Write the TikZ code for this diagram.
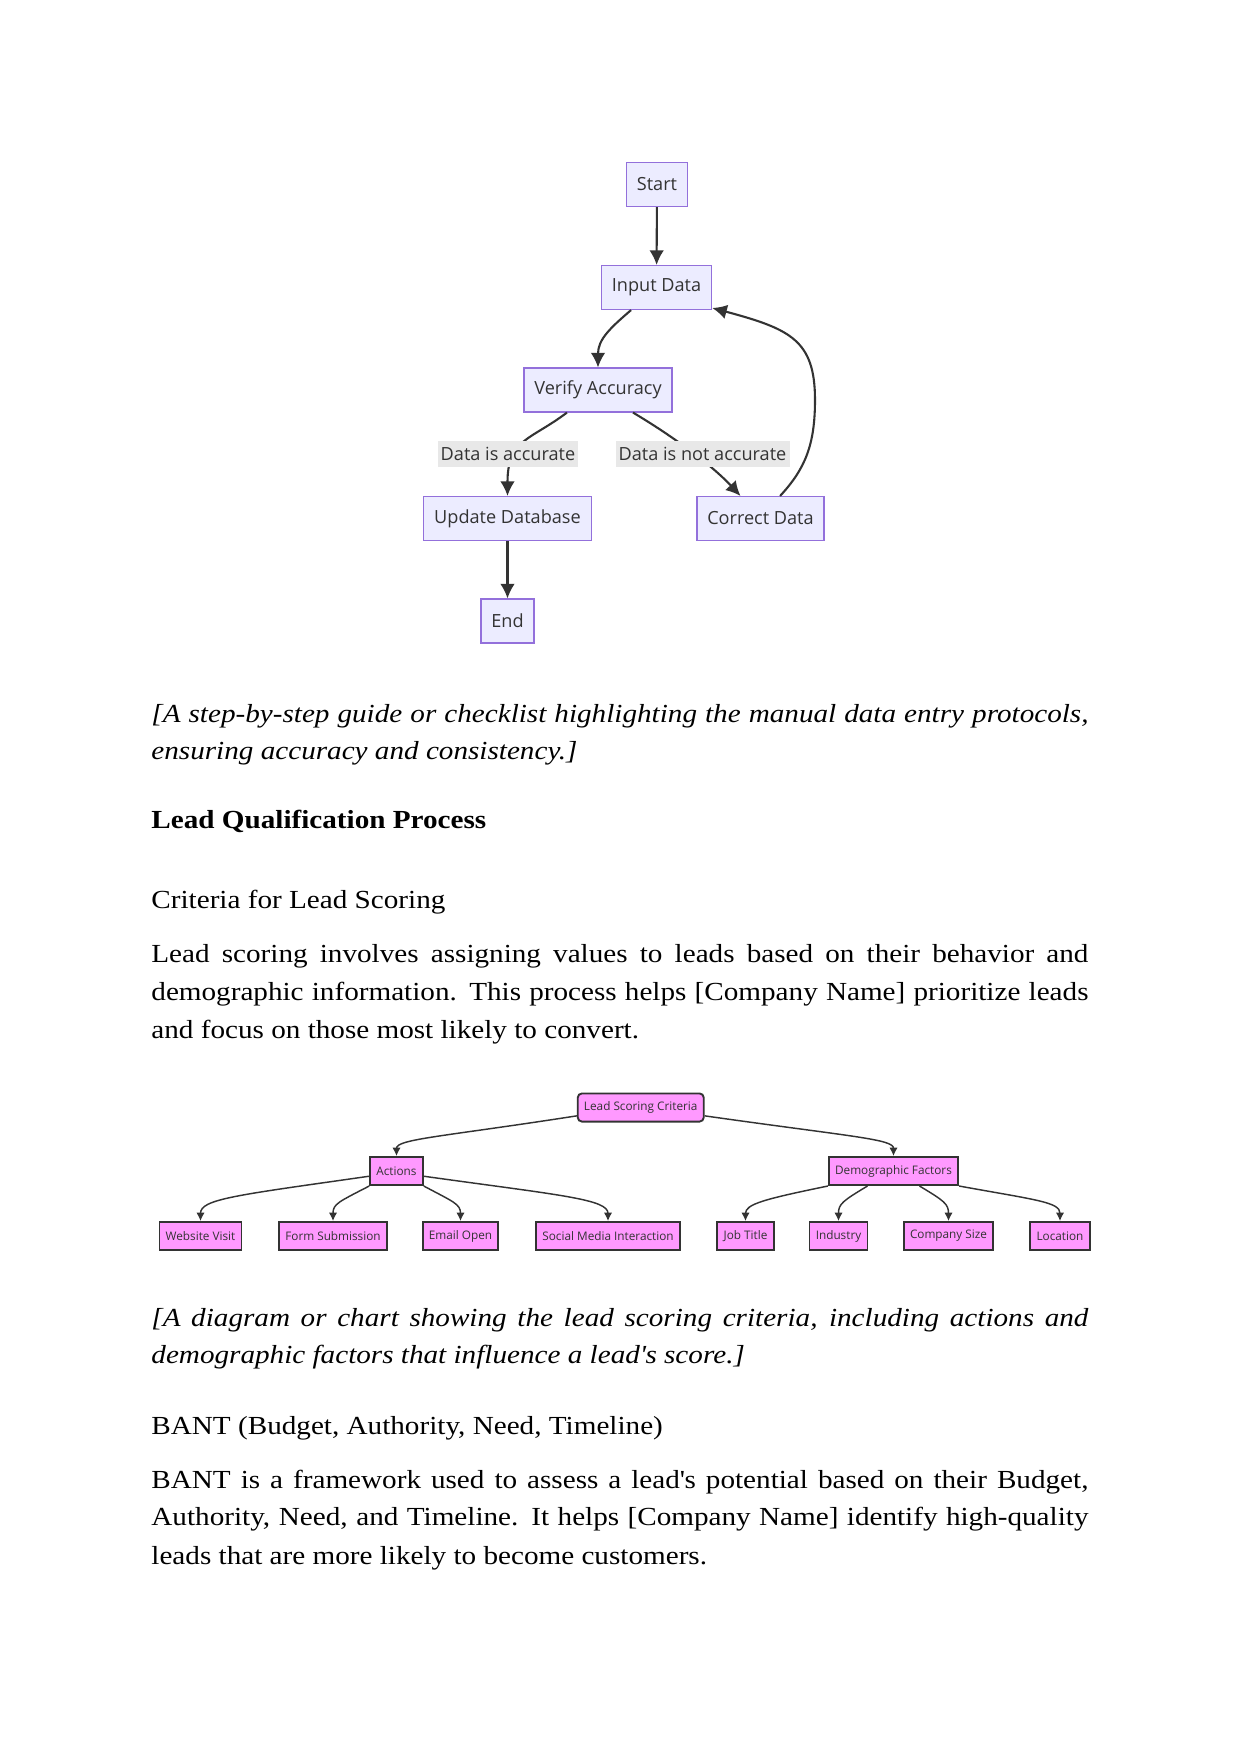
\documentclass[tikz,border=0pt]{standalone}
\usepackage{fontspec}
\setmainfont{Liberation Serif}[FakeStretch=1.12]
\newfontfamily\chartfont{Open Sans}
\usetikzlibrary{arrows.meta}

\definecolor{flowfill}{HTML}{ECECFF}
\definecolor{flowline}{HTML}{9370DB}
\definecolor{inkgray}{HTML}{333333}
\definecolor{labelgray}{HTML}{E8E8E8}
\definecolor{scorepink}{HTML}{FF99FF}

\newcommand{\justline}[1]{\makebox[449.8pt][s]{#1}}

\tikzset{
  flowbox/.style={draw=flowline, fill=flowfill, line width=0.65pt, text=inkgray,
    font=\chartfont\fontsize{8.7}{10}\selectfont, minimum height=21pt, inner xsep=5pt},
  flowlabel/.style={fill=labelgray, text=inkgray, font=\chartfont\fontsize{8.7}{10}\selectfont,
    minimum height=12.5pt, inner xsep=1.5pt, inner ysep=0pt},
  flowedge/.style={draw=inkgray, line width=1pt, ->, >={Latex[length=7pt,width=7pt]}},
  scorebox/.style={draw=inkgray, fill=scorepink, line width=0.9pt, text=inkgray,
    font=\chartfont\fontsize{5.65}{6.5}\selectfont, minimum height=13.5pt, inner xsep=3pt},
  scoreedge/.style={draw=inkgray, line width=0.7pt, ->, >={Latex[length=4pt,width=4pt]}},
  bodytext/.style={anchor=base west, inner sep=0pt, font=\fontsize{12.5}{18}\selectfont},
}

\begin{document}
\begin{tikzpicture}[x=0.48pt, y=-0.48pt]
            \fill[white] (0,0) rectangle (1242,1755) ;

            % data entry flow
            \node[flowbox] (start) at (657,184.5) {Start} ;
            \node[flowbox] (inp) at (656.5,287.5) {Input Data} ;
            \node[flowbox] (ver) at (598,390) {Verify Accuracy} ;
            \node[flowbox] (upd) at (507.5,518.5) {Update Database} ;
            \node[flowbox] (cor) at (760.5,518.5) {Correct Data} ;
            \node[flowbox] (fin) at (507.5,621) {End} ;
            \coordinate (bend) at (815,400) ;
            \draw[flowedge] (start) -- (inp) ;
            \draw[flowedge] ([xshift=-12.2pt]inp.south) .. controls +(-21,18) and +(0,-28) .. (ver.north) ;
            \draw[flowedge] ([xshift=-14.9pt]ver.south) .. controls +(-37,28) and +(0,-57) .. (upd.north) ;
            \draw[flowedge] ([xshift=16.8pt]ver.south) .. controls +(47,28) and +(-25,-27) .. ([xshift=-9.6pt]cor.north) ;
            \draw[flowedge] ([xshift=9.4pt]cor.north) .. controls +(25,-27) and +(0,45) .. (bend) .. controls +(0,-60) and +(78,21) .. ([yshift=1pt]inp.south east) ;
            \draw[flowedge] (upd) -- (fin) ;
            \node[flowlabel] (yes) at (508,454) {Data is accurate} ;
            \node[flowlabel] (no) at (702.5,454) {Data is not accurate} ;

            \node[bodytext, font=\fontsize{12.5}{18}\selectfont\itshape] (capa) at (151,722) {\justline{[A step-by-step guide or checklist highlighting the manual data entry protocols,}} ;
            \node[bodytext, font=\fontsize{12.5}{18}\selectfont\itshape] (capb) at (151,759) {ensuring accuracy and consistency.]} ;
            \node[bodytext, font=\fontsize{12.5}{18}\selectfont\bfseries] (head) at (151,828) {Lead Qualification Process} ;
            \node[bodytext] (crit) at (151,908) {Criteria for Lead Scoring} ;
            \node[bodytext] (para) at (151,962) {\justline{Lead scoring involves assigning values to leads based on their behavior and}} ;
            \node[bodytext] (parb) at (151,1000) {\justline{demographic information. This process helps [Company Name] prioritize leads}} ;
            \node[bodytext] (parc) at (151,1038) {and focus on those most likely to convert.} ;

            % scoring tree
            \node[scorebox, rounded corners=2pt] (lsc) at (640.75,1107.5) {Lead Scoring Criteria} ;
            \node[scorebox] (act) at (396.5,1171) {Actions} ;
            \node[scorebox] (dem) at (893.5,1171) {Demographic Factors} ;
            \node[scorebox] (web) at (200.5,1236) {Website Visit} ;
            \node[scorebox] (form) at (333,1236) {Form Submission} ;
            \node[scorebox] (mail) at (460.5,1236) {Email Open} ;
            \node[scorebox] (soc) at (608,1236) {Social Media Interaction} ;
            \node[scorebox] (job) at (745.5,1236) {Job Title} ;
            \node[scorebox] (ind) at (838.5,1236) {Industry} ;
            \node[scorebox] (size) at (948.5,1236) {Company Size} ;
            \node[scorebox] (loc) at (1060,1236) {Location} ;
            \draw[scoreedge] ([yshift=-4pt]lsc.west) .. controls +(-135,21) and +(0,-17) .. (act.north) ;
            \draw[scoreedge] ([yshift=-4pt]lsc.east) .. controls +(148,21) and +(0,-17) .. (dem.north) ;
            \draw[scoreedge] ([yshift=-2.5pt]act.west) .. controls +(-133,19) and +(0,-22) .. (web.north) ;
            \draw[scoreedge] (act.south west) .. controls +(-31,16) and +(0,-17) .. (form.north) ;
            \draw[scoreedge] (act.south east) .. controls +(30,16) and +(0,-17) .. (mail.north) ;
            \draw[scoreedge] ([yshift=-2.5pt]act.east) .. controls +(136,19) and +(0,-22) .. (soc.north) ;
            \draw[scoreedge] (dem.south west) .. controls +(-63,13) and +(0,-17) .. (job.north) ;
            \draw[scoreedge] ([xshift=19pt]dem.south west) .. controls +(-25,15) and +(0,-17) .. (ind.north) ;
            \draw[scoreedge] ([xshift=-19pt]dem.south east) .. controls +(25,15) and +(0,-17) .. (size.north) ;
            \draw[scoreedge] (dem.south east) .. controls +(77,14) and +(0,-19) .. (loc.north) ;

            \node[bodytext, font=\fontsize{12.5}{18}\selectfont\itshape] (capc) at (151,1326) {\justline{[A diagram or chart showing the lead scoring criteria, including actions and}} ;
            \node[bodytext, font=\fontsize{12.5}{18}\selectfont\itshape] (capd) at (151,1363) {demographic factors that influence a lead\textquotesingle s score.]} ;
            \node[bodytext] (bant) at (151,1434) {BANT (Budget, Authority, Need, Timeline)} ;
            \node[bodytext] (pare) at (151,1488) {\justline{BANT is a framework used to assess a lead\textquotesingle s potential based on their Budget,}} ;
            \node[bodytext] (parf) at (151,1525) {\justline{Authority, Need, and Timeline. It helps [Company Name] identify high-quality}} ;
            \node[bodytext] (parg) at (151,1564) {leads that are more likely to become customers.} ;
\end{tikzpicture}
\end{document}
